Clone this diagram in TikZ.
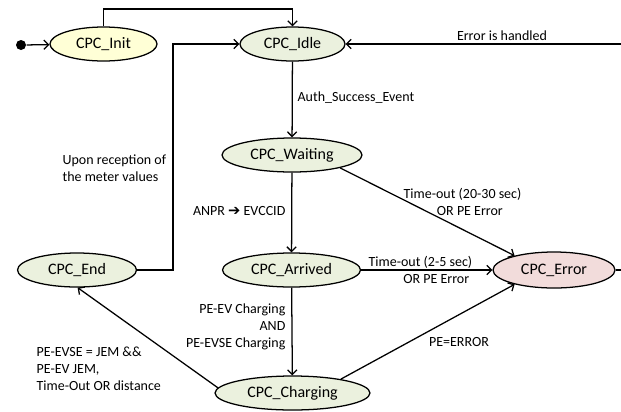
\documentclass[tikz,border=0pt]{standalone}
\usepackage{fontspec}
\setmainfont{Carlito}
\newfontfamily\dejavu{DejaVu Sans}
\usetikzlibrary{shapes.geometric, arrows.meta}
\definecolor{stategreen}{HTML}{EBF1DE}
\definecolor{inityellow}{HTML}{FFFFD6}
\definecolor{errorpink}{HTML}{F2DCDB}
\begin{document}
\begin{tikzpicture}[x=0.75pt, y=-0.75pt, line width=0.95pt, >={Straight Barb[length=3.5pt,width=7pt]},
    cpcstate/.style={ellipse, draw, fill=stategreen, inner sep=0pt, minimum height=25.5pt, font=\fontsize{12}{14}\selectfont},
    lbl/.style={font=\fontsize{10.5}{12.7}\selectfont, inner sep=0pt}]
                \useasboundingbox (0,0) rectangle (621,411);
                \node[circle, fill=black, inner sep=0pt, minimum size=7.5pt] (start) at (21,45) {};
                \node[cpcstate, fill=inityellow, minimum width=80.25pt] (init) at (103.5,44) {CPC\_Init};
                \node[cpcstate, minimum width=78.75pt] (idle) at (292.5,44) {CPC\_Idle};
                \node[cpcstate, minimum width=105pt] (wait) at (292,155) {CPC\_Waiting};
                \node[cpcstate, minimum width=103.5pt] (arr) at (291.5,270) {CPC\_Arrived};
                \node[cpcstate, minimum width=116.25pt] (chg) at (292.5,393) {CPC\_Charging};
                \node[cpcstate, minimum width=89.25pt] (end) at (77,270) {CPC\_End};
                \node[cpcstate, fill=errorpink, minimum width=91.5pt, minimum height=27pt] (err) at (554,270) {CPC\_Error};
                \coordinate (top) at (292.5,9);
                \coordinate (loop) at (173,44);
                \coordinate (rtop) at (628,44);
                \coordinate (rbot) at (628,270);
                \draw[->] (start) -- (init);
                \draw[->] (init.north) |- (top) -- (idle.north);
                \draw[->] (idle) -- (wait);
                \draw[->] (wait) -- (arr);
                \draw[->] (arr) -- (chg);
                \draw[->] (arr) -- (err);
                \draw[->] (wait.-15) -- (err.160);
                \draw[->] (chg.16) -- (err.200);
                \draw[->] (chg.176) -- (end.-88);
                \draw[->] (end.east) -| (loop) -- (idle.west);
                \draw[->] (err.east) -- (rbot) -- (rtop) -- (idle.east);
                \node[lbl] (lhandled) at (502,36) {Error is handled};
                \node[lbl, anchor=west] (lauth) at (297,98) {Auth\_Success\_Event};
                \node[lbl, anchor=west, align=left] (lmeter) at (62,168.5) {Upon reception of\\the meter values};
                \node[lbl, anchor=east] (lanpr) at (286,211) {ANPR {\dejavu\bfseries\fontsize{11}{11}\selectfont ➔} EVCCID};
                \node[lbl, anchor=west, align=left] (lwaitto) at (403,201.5) {Time-out (20-30 sec)\\\hspace*{25pt}OR PE Error};
                \node[lbl, anchor=west, align=left] (larrto) at (368,270) {Time-out (2-5 sec)\\\hspace*{26pt}OR PE Error};
                \node[lbl, anchor=east, align=right] (lchg) at (286,326.5) {PE-EV Charging\\AND\\PE-EVSE Charging};
                \node[lbl, anchor=west, align=left] (lend) at (36,368.5) {PE-EVSE = JEM \&\&\\PE-EV JEM,\\Time-Out OR distance};
                \node[lbl] (lpeerr) at (459,342) {PE=ERROR};
                \end{tikzpicture}
\end{document}
